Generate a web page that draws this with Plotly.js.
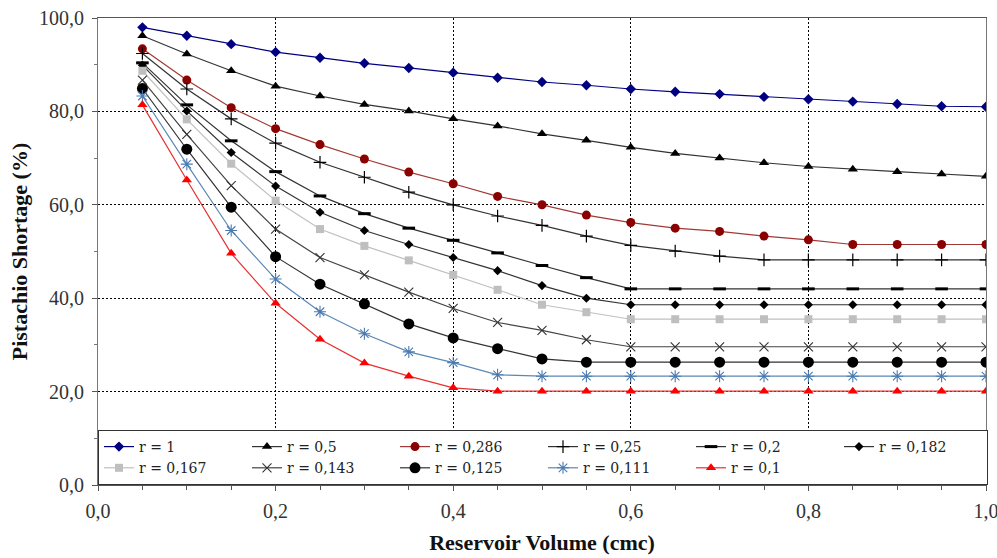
<!DOCTYPE html>
<html>
<head>
<meta charset="utf-8">
<script src="https://cdn.plot.ly/plotly-3.0.1.min.js"></script>
<style>html,body{margin:0;padding:0;background:#fff;}#chart{width:997px;height:558px;}</style>
</head>
<body>
<div id="chart"></div>
<script>
const volume = [0.05,0.10,0.15,0.20,0.25,0.30,0.35,0.40,0.45,0.50,0.55,0.60,0.65,0.70,0.75,0.80,0.85,0.90,0.95,1.00];

const r1    = [98.0,96.2,94.4,92.7,91.5,90.3,89.3,88.3,87.2,86.3,85.6,84.8,84.2,83.7,83.1,82.6,82.1,81.6,81.1,81.0];
const r0500 = [96.2,92.3,88.7,85.4,83.3,81.5,80.1,78.4,76.9,75.2,73.8,72.3,71.0,70.0,69.0,68.2,67.6,67.1,66.6,66.1];
const r0286 = [93.4,86.7,80.8,76.3,72.9,69.8,67.0,64.5,61.8,60.0,57.8,56.2,55.0,54.3,53.3,52.5,51.5,51.5,51.5,51.5];
const r0250 = [92.4,84.8,78.4,73.2,69.1,65.9,62.7,60.0,57.6,55.6,53.3,51.3,50.1,49.0,48.2,48.2,48.2,48.2,48.2,48.2];
const r0200 = [90.4,81.4,73.7,67.1,61.9,58.1,55.0,52.4,49.7,47.0,44.4,42.0,42.0,42.0,42.0,42.0,42.0,42.0,42.0,42.0];
const r0182 = [89.9,80.1,71.2,64.0,58.4,54.5,51.5,48.7,45.9,42.7,40.0,38.6,38.6,38.6,38.6,38.6,38.6,38.6,38.6,38.6];
const r0167 = [88.7,78.3,68.8,60.9,54.8,51.2,48.1,45.0,41.8,38.6,37.0,35.5,35.5,35.5,35.5,35.5,35.5,35.5,35.5,35.5];
const r0143 = [86.7,75.1,64.1,54.8,48.7,45.0,41.3,37.8,34.8,33.1,31.1,29.6,29.6,29.6,29.6,29.6,29.6,29.6,29.6,29.6];
const r0125 = [84.9,71.9,59.5,48.9,43.0,38.8,34.5,31.5,29.2,27.0,26.3,26.3,26.3,26.3,26.3,26.3,26.3,26.3,26.3,26.3];
const r0111 = [83.3,68.7,54.5,44.1,37.1,32.4,28.5,26.2,23.6,23.3,23.3,23.3,23.3,23.3,23.3,23.3,23.3,23.3,23.3,23.3];
const r0100 = [81.4,65.3,49.6,38.9,31.2,26.1,23.3,20.8,20.1,20.1,20.1,20.1,20.1,20.1,20.1,20.1,20.1,20.1,20.1,20.1];

const seriesNames = ['r = 1','r = 0,5','r = 0,286','r = 0,25','r = 0,2','r = 0,182','r = 0,167','r = 0,143','r = 0,125','r = 0,111','r = 0,1'];
const seriesValues = [r1,r0500,r0286,r0250,r0200,r0182,r0167,r0143,r0125,r0111,r0100];

const xTicks = [0,0.2,0.4,0.6,0.8,1.0];
const xTickText = ['0,0','0,2','0,4','0,6','0,8','1,0'];

const styles = [
  {line:'#000080', symbol:'diamond', size:8, color:'#000080', lc:'#000080', lw:0},
  {line:'#333333', symbol:'triangle-up', size:9, color:'#000000', lc:'#000000', lw:0},
  {line:'#a03a36', symbol:'circle', size:9, color:'#8b0000', lc:'#8b0000', lw:0},
  {line:'#333333', symbol:'cross-thin', size:9, color:'#000000', lc:'#000000', lw:1.2},
  {line:'#333333', symbol:'line-ew', size:9, color:'#000000', lc:'#000000', lw:3},
  {line:'#333333', symbol:'diamond', size:7, color:'#000000', lc:'#000000', lw:0},
  {line:'#c0c0c0', symbol:'square', size:8, color:'#bfbfbf', lc:'#bfbfbf', lw:0},
  {line:'#444444', symbol:'x-thin', size:9, color:'#333333', lc:'#333333', lw:1.1},
  {line:'#333333', symbol:'circle', size:11, color:'#000000', lc:'#000000', lw:0},
  {line:'#5a88b5', symbol:'asterisk', size:10, color:'#4a7ab0', lc:'#4a7ab0', lw:1.1},
  {line:'#e83030', symbol:'triangle-up', size:9, color:'#ff0000', lc:'#ff0000', lw:0}
];

const traces = seriesNames.map((name, i) => ({
  type:'scatter', mode:'lines+markers', name:name,
  x: volume, y: seriesValues[i],
  line:{color:styles[i].line, width:1.2},
  marker:{symbol:styles[i].symbol, size:styles[i].size, color:styles[i].color,
          line:{color:styles[i].lc, width:styles[i].lw}}
}));

const layout = {
  width:997, height:558,
  margin:{l:98, r:11, t:18, b:73},
  paper_bgcolor:'#ffffff', plot_bgcolor:'#ffffff',
  separators:', ',
  showlegend:true,
  font:{family:'Liberation Serif, Times New Roman, serif', color:'#222'},
  xaxis:{
    range:[0,1], tickmode:'array', tickvals:xTicks, ticktext:xTickText,
    ticklabeloverflow:'allow',
    showgrid:true, gridcolor:'#000', griddash:'2px,2px', gridwidth:1,
    zeroline:false, showline:true, linecolor:'#555', linewidth:1, mirror:true,
    ticks:'outside', ticklen:5, tickcolor:'#555',
    minor:{dtick:0.05, tick0:0, ticks:'outside', ticklen:4, tickcolor:'#555', showgrid:false},
    tickfont:{size:20, family:'Liberation Serif, serif', color:'#333'},
    ticklabelstandoff:3,
    title:{text:'<b>Reservoir Volume (cmc)</b>', font:{size:22, family:'Liberation Serif, serif', color:'#111'}, standoff:13}
  },
  yaxis:{
    range:[0,100], dtick:20, tick0:0, tickformat:'.1f',
    showgrid:true, gridcolor:'#000', griddash:'2px,2px', gridwidth:1,
    zeroline:false, showline:true, linecolor:'#777', linewidth:1, mirror:true,
    ticks:'outside', ticklen:5, tickcolor:'#555',
    minor:{dtick:10, ticks:'outside', ticklen:3, tickcolor:'#777', showgrid:false},
    tickfont:{size:20, family:'Liberation Serif, serif', color:'#333'},
    ticklabelstandoff:4,
    title:{text:'<b>Pistachio Shortage (%)</b>', font:{size:22, family:'Liberation Serif, serif', color:'#111'}, standoff:5}
  },
  legend:{
    orientation:'h', x:0, y:0, xanchor:'left', yanchor:'bottom',
    bgcolor:'#ffffff', bordercolor:'#333', borderwidth:1,
    entrywidth:103, entrywidthmode:'pixels',
    font:{size:14, family:'DejaVu Serif, serif', color:'#222'},
    traceorder:'normal', tracegroupgap:0
  }
};

Plotly.newPlot('chart', traces, layout, {displayModeBar:false, staticPlot:true});
</script>
</body>
</html>
